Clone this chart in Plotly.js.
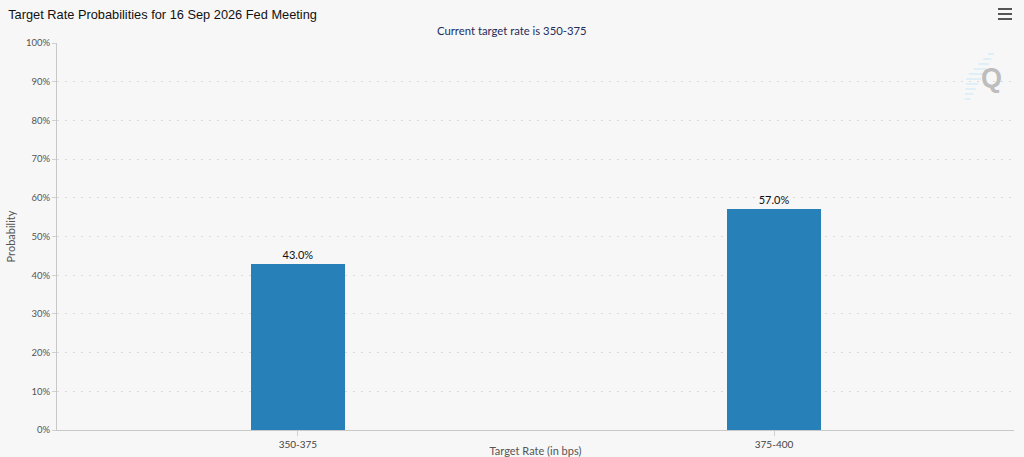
<!DOCTYPE html>
<html><head><meta charset="utf-8">
<script src="https://cdn.plot.ly/plotly-3.0.1.min.js"></script>
<style>html,body{margin:0;padding:0;background:#f7f7f7;}#chart{width:1024px;height:457px;}</style>
</head><body><div id="chart"></div>
<script>
var categories = ["350-375", "375-400"];
var probabilities = [43.0, 57.0];
var barLabels = ["43.0%", "57.0%"];
var yTickVals = [0,10,20,30,40,50,60,70,80,90,100];
var yTickText = ["0%","10%","20%","30%","40%","50%","60%","70%","80%","90%","100%"];

var trace = {
  type: "bar",
  x: categories,
  y: probabilities,
  width: 0.1975,
  marker: {color: "#2880b9", line: {width: 0}},
  text: barLabels,
  textposition: "outside",
  cliponaxis: false,
  textfont: {family: "Lato, 'Open Sans', sans-serif", size: 11, color: "#111"},
  hoverinfo: "x+y"
};

var W = 1024, H = 457, mL = 57, mR = 10, mT = 43, mB = 27;
function px(x){ return (x - mL) / (W - mL - mR); }
function py(y){ return (H - mB - y) / (H - mT - mB); }
// hamburger menu icon (decoration)
var menuShapes = [9, 14, 19].map(function(y){
  return {type: "rect", xref: "paper", yref: "paper",
    x0: px(998), x1: px(1012), y0: py(y + 1), y1: py(y - 1),
    fillcolor: "#555", line: {width: 0}};
});
// watermark stripes (decoration)
var wmShapes = [];
for (var i = 0; i < 10; i++) {
  var yy = 54 + i * 5;
  var xr = 994 - i * 2.6;
  var len = 6 + Math.min(i, 9 - i) * 2.2;
  wmShapes.push({type: "line", xref: "paper", yref: "paper",
    x0: px(xr - len), x1: px(xr), y0: py(yy), y1: py(yy),
    line: {color: "#d8edf8", width: 1.6}});
}

var layout = {
  width: W, height: H,
  paper_bgcolor: "#f7f7f7", plot_bgcolor: "#f7f7f7",
  margin: {l: mL, r: mR, t: mT, b: mB},
  showlegend: false,
  title: {text: "Target Rate Probabilities for 16 Sep 2026 Fed Meeting",
    x: 0.008, xanchor: "left", y: 0.978, yanchor: "top",
    font: {family: "Helvetica, Arial, 'Liberation Sans', sans-serif", size: 12.8, color: "#111"}},
  xaxis: {
    type: "category",
    range: [-0.506, 1.504],
    showgrid: false, zeroline: false,
    showline: true, linecolor: "#c8c8c8", linewidth: 1,
    ticks: "outside", ticklen: 5, tickcolor: "#d0d0d0",
    tickfont: {family: "Lato, 'Open Sans', sans-serif", size: 10, color: "#444"},
    title: {text: "Target Rate (in bps)",
      font: {family: "Lato, 'Open Sans', sans-serif", size: 11, color: "#555"}},
    fixedrange: true
  },
  yaxis: {
    range: [0, 100],
    tickvals: yTickVals, ticktext: yTickText,
    showgrid: true, gridcolor: "#d9d9d9", griddash: "2px,6px", gridwidth: 1.2,
    zeroline: false,
    showline: true, linecolor: "#c8c8c8", linewidth: 1,
    ticks: "outside", ticklen: 4, tickcolor: "#d0d0d0",
    tickfont: {family: "Lato, 'Open Sans', sans-serif", size: 9.5, color: "#555"},
    title: {text: "Probability", standoff: 8,
      font: {family: "Lato, 'Open Sans', sans-serif", size: 11, color: "#555"}},
    fixedrange: true
  },
  bargap: 0,
  shapes: menuShapes.concat(wmShapes),
  annotations: [
    {text: "Current target rate is 350-375", xref: "paper", yref: "paper",
     x: px(512), y: py(31), xanchor: "center", yanchor: "middle", showarrow: false,
     font: {family: "Lato, 'Open Sans', sans-serif", size: 11.3, color: "#1f2d5a"}},
    {text: "<b>Q</b>", xref: "paper", yref: "paper", x: px(991), y: py(78),
     xanchor: "center", yanchor: "middle", showarrow: false,
     font: {family: "Arial, 'Liberation Sans', sans-serif", size: 27, color: "#bdbdbd"}}
  ]
};

Plotly.newPlot("chart", [trace], layout, {displayModeBar: false, staticPlot: true});
</script></body></html>
